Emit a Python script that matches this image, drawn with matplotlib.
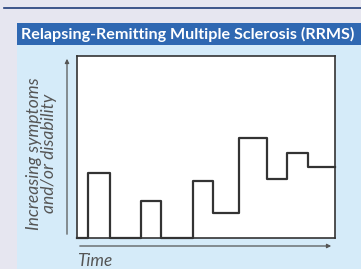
import matplotlib
matplotlib.use('Agg')
import matplotlib.pyplot as plt
from matplotlib.patches import Rectangle, FancyArrowPatch
from matplotlib.lines import Line2D

# relapse / remission course (time in % of window, level in % of scale)
times = [0, 4.4, 12.7, 24.7, 32.7, 44.9, 52.9, 63.0, 73.9, 81.7, 89.8, 100]
levels = [0, 35.7, 0, 20.1, 0, 31.1, 13.5, 54.7, 32.1, 46.6, 38.8, 38.8]

title = 'Relapsing-Remitting Multiple Sclerosis (RRMS)'
ylabel = 'Increasing symptoms\nand/or disability'
xlabel = 'Time'

W, H = 361, 269
fig = plt.figure(figsize=(W / 100, H / 100), dpi=100, facecolor='#e6e6f0')


def fx(px):
    return px / W


def fy(py):
    return 1 - py / H


# navy rule at the top
fig.add_artist(Line2D([fx(4), 1], [fy(7.5), fy(7.5)], color='#1f3c78', lw=1.2, zorder=-2))
# panel body and header
fig.add_artist(Rectangle((fx(17), 0), 1 - fx(17), fy(45), color='#d5ebf9', lw=0, zorder=-2))
fig.add_artist(Rectangle((fx(17), fy(45)), 1 - fx(17), fy(23) - fy(45), color='#2f68b2',
                         lw=0, zorder=-2))
fig.text(fx(21), fy(34.5), title, color='white', fontsize=11.6, fontweight='bold',
         family='Lato', va='center', ha='left')

ax = fig.add_axes([fx(77), fy(237.5), fx(334.5) - fx(77), fy(56) - fy(237.5)])
ax.set_facecolor('white')
ax.step(times, levels, where='post', color='#333333', lw=1.6, clip_on=False)
ax.set_xlim(0, 100)
ax.set_ylim(0, 100)
ax.set_xticks([])
ax.set_yticks([])
for s in ax.spines.values():
    s.set_color('#333333')
    s.set_linewidth(1.2)

# axis arrows
arrow_kw = dict(arrowstyle='-|>', mutation_scale=6, color='#555555', lw=0.9)
fig.add_artist(FancyArrowPatch((fx(67), fy(237)), (fx(67), fy(56)),
                               transform=fig.transFigure, **arrow_kw))
fig.add_artist(FancyArrowPatch((fx(77), fy(246)), (fx(334), fy(246)),
                               transform=fig.transFigure, **arrow_kw))

fig.text(fx(41.5), fy(153.5), ylabel, rotation=90, color='#555555', fontsize=12.6,
         family='Lato', style='italic', ha='center', va='center',
         linespacing=0.92, multialignment='center')
fig.text(fx(77), fy(261), xlabel, color='#555555', fontsize=12.4,
         family='Lato', style='italic', ha='left', va='center')

fig.savefig('out.png', dpi=100, facecolor=fig.get_facecolor())
